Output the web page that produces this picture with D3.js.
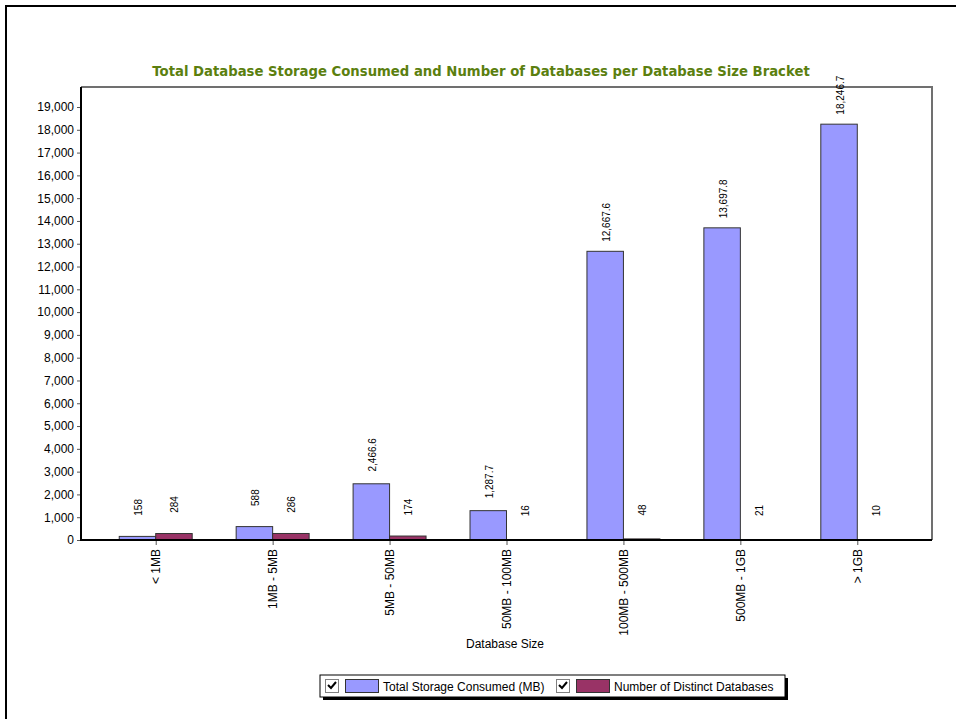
<!DOCTYPE html>
<html>
<head>
<meta charset="utf-8">
<script src="https://cdn.jsdelivr.net/npm/d3@7"></script>
<style>
  html, body { margin: 0; padding: 0; background: #fff; }
  svg { display: block; }
</style>
</head>
<body>
<svg id="chart" width="956" height="719"></svg>
<script>
// Size brackets and the two measured series
const categories = ["< 1MB", "1MB - 5MB", "5MB - 50MB", "50MB - 100MB", "100MB - 500MB", "500MB - 1GB", "> 1GB"];
const storageMB = [158, 588, 2466.6, 1287.7, 12667.6, 13697.8, 18246.7];
const databaseCounts = [284, 286, 174, 16, 48, 21, 10];
const seriesNames = ["Total Storage Consumed (MB)", "Number of Distinct Databases"];
const yTicks = d3.range(0, 19001, 1000);

const colors = ["#9999FF", "#993366"];
const svg = d3.select("#chart");

// Outer frame
svg.append("rect")
  .attr("x", 6).attr("y", 6).attr("width", 1000).attr("height", 800)
  .attr("fill", "none").attr("stroke", "#000").attr("stroke-width", 2);

const plot = { left: 81, right: 932, top: 87, bottom: 540 };

const x = d3.scaleBand()
  .domain(categories)
  .range([plot.left, plot.right])
  .paddingInner(0.376)
  .paddingOuter(0.327);

const xSub = d3.scaleBand()
  .domain([0, 1])
  .range([0, x.bandwidth()]);

const y = d3.scaleLinear()
  .domain([0, 19000])
  .range([plot.bottom, 107]);

// Title, fitted to its width
const title = svg.append("text")
  .attr("x", 481).attr("y", 76)
  .attr("text-anchor", "middle")
  .attr("font-family", "Verdana, 'DejaVu Sans', sans-serif")
  .attr("font-weight", "bold")
  .attr("font-size", 13)
  .attr("fill", "#5B7F0F")
  .text("Total Database Storage Consumed and Number of Databases per Database Size Bracket");
const tw = title.node().getComputedTextLength();
title.attr("font-size", 13 * 658 / tw);

// Plot frame (top and right edges)
svg.append("path")
  .attr("d", `M${plot.left},${plot.top}H${plot.right}V${plot.bottom}`)
  .attr("fill", "none").attr("stroke", "#707070").attr("stroke-width", 2);

// Bars
const rows = categories.map((c, i) => ({ cat: c, vals: [storageMB[i], databaseCounts[i]] }));
const groups = svg.append("g").selectAll("g")
  .data(rows).join("g")
  .attr("transform", d => `translate(${x(d.cat)},0)`);

groups.selectAll("rect")
  .data(d => d.vals.map((v, k) => ({ v, k })))
  .join("rect")
  .attr("x", d => xSub(d.k))
  .attr("width", xSub.bandwidth())
  .attr("y", d => y(d.v))
  .attr("height", d => y(0) - y(d.v))
  .attr("fill", d => colors[d.k])
  .attr("stroke", "#333")
  .attr("stroke-width", 1);

// Value labels, rotated, above each bar
const fmtVal = v => Number.isInteger(v) ? d3.format(",")(v) : d3.format(",.1f")(v);
groups.selectAll("text")
  .data(d => d.vals.map((v, k) => ({ v, k })))
  .join("text")
  .attr("transform", d => `translate(${xSub(d.k) + xSub.bandwidth() / 2 + 1},${y(d.v) - 29}) rotate(-90)`)
  .attr("text-anchor", "middle")
  .attr("dominant-baseline", "central")
  .attr("font-family", "Arial, 'Liberation Sans', sans-serif")
  .attr("font-size", 10)
  .attr("fill", "#000")
  .text(d => fmtVal(d.v));

// Y axis
const yAxis = svg.append("g")
  .attr("transform", `translate(${plot.left},0)`)
  .call(d3.axisLeft(y).tickValues(yTicks).tickFormat(d3.format(",")).tickSize(4).tickPadding(3));
yAxis.select(".domain").remove();
yAxis.selectAll("line").attr("stroke", "#555");
yAxis.selectAll("text")
  .attr("font-family", "Arial, 'Liberation Sans', sans-serif")
  .attr("font-size", 12).attr("fill", "#000");

// X axis
const xCenters = d3.scalePoint()
  .domain(categories)
  .range([x(categories[0]) + x.bandwidth() / 2, x(categories[categories.length - 1]) + x.bandwidth() / 2]);
const xAxis = svg.append("g")
  .attr("transform", `translate(0,${plot.bottom})`)
  .call(d3.axisBottom(xCenters).tickSize(5).tickPadding(4));
xAxis.select(".domain").remove();
xAxis.selectAll("line").attr("stroke", "#555");
xAxis.selectAll("text")
  .attr("font-family", "Arial, 'Liberation Sans', sans-serif")
  .attr("font-size", 12).attr("fill", "#000")
  .attr("text-anchor", "end")
  .attr("dominant-baseline", "central")
  .attr("dy", null)
  .attr("transform", "translate(0,0) rotate(-90)")
  .attr("x", -9).attr("y", 0);

// Axis lines (left and bottom)
svg.append("path")
  .attr("d", `M${plot.left},${plot.top}V${plot.bottom}H${plot.right}`)
  .attr("fill", "none").attr("stroke", "#000").attr("stroke-width", 2);

// X axis title
svg.append("text")
  .attr("x", 505).attr("y", 648)
  .attr("text-anchor", "middle")
  .attr("font-family", "Arial, 'Liberation Sans', sans-serif")
  .attr("font-size", 12)
  .text("Database Size");

// Legend
const legend = svg.append("g").attr("transform", "translate(320,675)");
const lw = 465, lh = 22;
legend.append("rect").attr("x", 3).attr("y", 3).attr("width", lw).attr("height", lh).attr("fill", "#000");
legend.append("rect").attr("x", 0).attr("y", 0).attr("width", lw).attr("height", lh)
  .attr("fill", "#fff").attr("stroke", "#000").attr("stroke-width", 1);

const items = [
  { name: seriesNames[0], color: colors[0], x: 5 },
  { name: seriesNames[1], color: colors[1], x: 236 }
];
const li = legend.selectAll("g.item").data(items).join("g")
  .attr("class", "item")
  .attr("transform", d => `translate(${d.x},0)`);
// checkbox
li.append("rect").attr("x", 0.5).attr("y", 4.5).attr("width", 13).attr("height", 13)
  .attr("fill", "#fff").attr("stroke", "#808080");
li.append("path").attr("d", "M3,10 L6,13 L11,7")
  .attr("fill", "none").attr("stroke", "#000").attr("stroke-width", 2);
// swatch
li.append("rect").attr("x", 20.5).attr("y", 4.5).attr("width", 33).attr("height", 13)
  .attr("fill", d => d.color).attr("stroke", "#333");
li.append("text").attr("x", 58).attr("y", 15.5)
  .attr("font-family", "Arial, 'Liberation Sans', sans-serif")
  .attr("font-size", 12)
  .text(d => d.name);
</script>
</body>
</html>
